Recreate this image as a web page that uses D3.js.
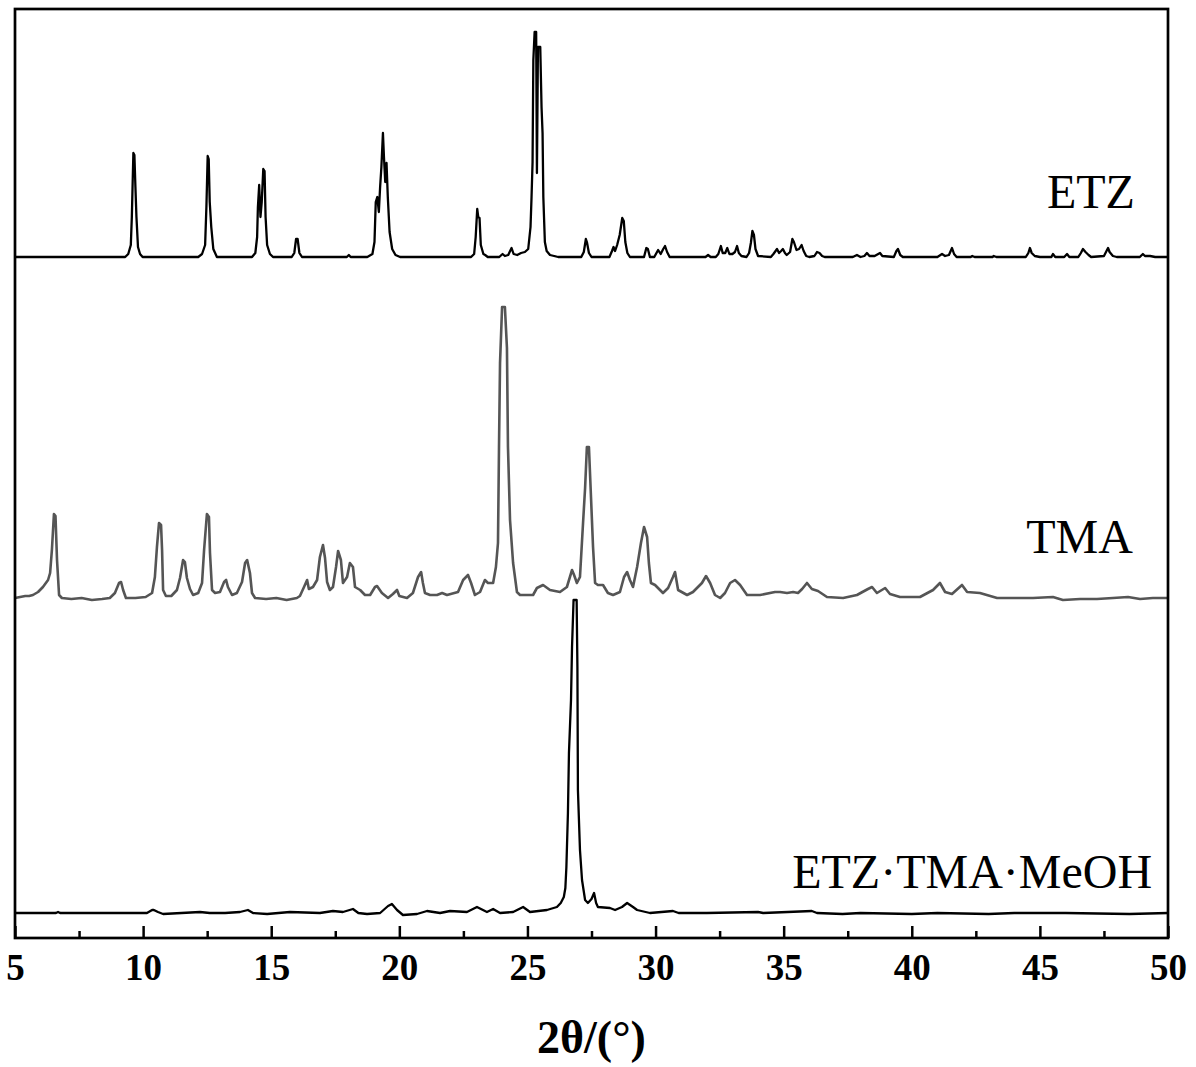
<!DOCTYPE html>
<meta charset="utf-8">
<style>
body { margin: 0; background: #fff; }
svg { display: block; font-family: "Times New Roman", "Liberation Serif", serif; }
.tick line { stroke: #000; stroke-width: 2.5; }
.tick text { font-family: "Times New Roman", "Liberation Serif", serif; font-size: 37px; font-weight: bold; fill: #000; }
.trace { fill: none; stroke-linejoin: round; }
</style>
<script src="https://d3js.org/d3.v7.min.js"></script>
<body>
<script>
// 2theta (deg) / intensity (a.u., above each pattern's own baseline)
const seriesNames = ['ETZ', 'TMA', 'ETZ\u00B7TMA\u00B7MeOH'];
const seriesOffsets = [681, 340, 25];
const seriesColors = ['#000000', '#555555', '#000000'];

const etzPattern = [
  [5.00,0],[6.70,0],[8.00,0],[9.30,0],[9.42,3],[9.52,12],[9.56,40],[9.62,104],[9.66,102],[9.70,70],[9.74,40],[9.80,10],[9.88,3],[9.98,0],
  [11.0,0],[12.15,0],[12.30,3],[12.42,12],[12.47,50],[12.52,101],[12.56,98],[12.60,55],[12.66,30],[12.74,8],[12.88,0],
  [14.25,0],[14.38,4],[14.45,20],[14.48,50],[14.53,72],[14.58,40],[14.63,55],[14.69,88],[14.74,86],[14.78,40],[14.84,12],[14.95,3],[15.07,0],
  [15.80,0],[15.90,4],[15.97,18],[16.03,18],[16.10,4],[16.20,0],
  [17.95,0],[18.03,2],[18.10,0],
  [18.75,0],[18.95,3],[19.03,15],[19.08,55],[19.14,60],[19.20,45],[19.25,70],[19.30,90],[19.36,124],[19.40,100],[19.45,75],[19.50,94],[19.55,60],[19.62,25],[19.72,8],[19.85,2],[20.03,0],
  [22.80,0],[22.92,3],[22.98,20],[23.04,48],[23.08,40],[23.13,39],[23.18,12],[23.28,3],[23.35,2],[23.45,0],
  [23.90,0],[24.03,3],[24.12,1],[24.25,2],[24.38,9],[24.46,3],[24.60,2],[24.75,4],[24.90,5],[25.03,8],[25.12,30],[25.16,60],[25.20,95],[25.23,197],[25.28,225],[25.34,225],[25.37,84],[25.41,210],[25.50,210],[25.55,150],[25.59,124],[25.62,60],[25.68,15],[25.75,6],[25.88,2],[26.20,0],
  [27.10,0],[27.20,5],[27.28,18],[27.32,15],[27.40,4],[27.50,0],
  [28.20,0],[28.30,6],[28.36,10],[28.42,6],[28.50,12],[28.60,22],[28.70,39],[28.76,36],[28.82,15],[28.90,4],[29.00,0],
  [29.55,0],[29.64,9],[29.70,8],[29.78,0],
  [29.95,0],[30.10,7],[30.20,3],[30.30,8],[30.37,11],[30.45,5],[30.55,0],
  [31.95,0],[32.05,2],[32.15,0],
  [32.35,0],[32.45,3],[32.55,11],[32.62,4],[32.72,4],[32.80,9],[32.88,3],[33.00,3],[33.10,5],[33.18,11],[33.25,4],[33.35,1],
  [33.55,0],[33.65,4],[33.72,14],[33.78,26],[33.84,22],[33.90,8],[34.00,1],
  [34.50,0],[34.60,3],[34.74,8],[34.82,4],[34.90,6],[34.97,8],[35.05,4],[35.12,2],[35.25,5],[35.34,18],[35.40,15],[35.50,7],[35.60,8],[35.70,12],[35.78,6],[35.88,1],[36.00,0],
  [36.20,1],[36.30,5],[36.40,4],[36.50,1],[36.60,0],
  [37.70,0],[37.86,2],[38.00,0],[38.15,1],[38.25,4],[38.35,1],[38.55,1],[38.76,4],[38.85,1],[39.30,0],[39.40,6],[39.46,8],[39.55,2],[39.65,0],
  [41.00,0],[41.18,3],[41.30,1],[41.45,2],[41.57,9],[41.65,3],[41.75,0],
  [42.30,0],[42.36,1],[42.45,0],[43.15,0],[43.20,1],[43.30,0],
  [44.45,0],[44.55,4],[44.61,9],[44.68,4],[44.80,1],[45.00,0],[45.45,0],[45.51,3],[45.60,0],[45.95,0],[46.06,3],[46.15,0],
  [46.50,0],[46.60,4],[46.68,8],[46.78,5],[46.90,2],[47.00,0],[47.50,1],[47.60,6],[47.66,9],[47.72,5],[47.85,1],[48.00,0],
  [48.90,0],[49.02,3],[49.10,1],[49.30,1],[49.50,0],[50.00,0]
];

const tmaPattern = [
  [5.00,0],[5.20,1],[5.40,2],[5.55,2],[5.70,3],[5.90,6],[6.09,11],[6.29,18],[6.37,25],[6.44,48],[6.52,84],[6.58,82],[6.64,38],[6.72,3],[6.83,0],
  [7.20,-1],[7.60,0],[8.00,-2],[8.40,-1],[8.70,0],[8.90,5],[9.06,15],[9.14,16],[9.22,8],[9.33,0],[9.70,0],[10.10,1],
  [10.35,5],[10.46,21],[10.54,51],[10.62,75],[10.70,73],[10.74,48],[10.78,8],[10.89,2],[11.10,2],
  [11.32,8],[11.44,20],[11.56,38],[11.63,36],[11.71,20],[11.83,9],[11.95,3],[12.15,5],
  [12.30,15],[12.38,48],[12.49,84],[12.57,81],[12.61,45],[12.69,8],[12.81,5],[13.00,6],
  [13.16,16],[13.24,18],[13.31,11],[13.47,3],[13.66,5],[13.86,16],[13.98,35],[14.06,38],[14.17,25],[14.25,5],[14.37,0],
  [14.80,-1],[15.20,0],[15.60,-2],[16.00,0],[16.12,2],[16.28,11],[16.40,18],[16.47,9],[16.63,11],[16.79,18],[16.90,41],[17.02,53],[17.10,40],[17.18,16],
  [17.29,8],[17.41,11],[17.53,31],[17.61,47],[17.72,38],[17.80,15],[17.96,21],[18.07,35],[18.19,31],[18.27,11],[18.47,8],[18.66,3],[18.86,3],
  [19.05,11],[19.13,12],[19.32,5],[19.56,0],[19.75,4],[19.91,8],[20.00,2],[20.30,0],[20.53,5],[20.73,21],[20.85,26],[20.92,15],[21.00,5],
  [21.20,3],[21.47,3],[21.67,5],[21.86,3],[22.29,6],[22.49,18],[22.68,23],[22.80,15],[22.95,3],[23.15,6],[23.34,18],[23.46,15],[23.66,15],
  [23.77,31],[23.85,55],[23.89,151],[23.93,235],[24.01,291],[24.12,291],[24.20,250],[24.24,151],[24.32,78],[24.44,35],[24.59,6],[24.71,3],
  [25.22,3],[25.37,10],[25.61,13],[25.88,8],[26.27,6],[26.54,11],[26.74,28],[26.82,23],[26.93,15],[27.05,21],
  [27.17,75],[27.25,110],[27.32,151],[27.40,151],[27.48,101],[27.56,51],[27.64,15],[27.75,13],[27.95,13],[28.14,5],[28.34,3],
  [28.61,6],[28.77,21],[28.89,26],[29.00,18],[29.12,11],[29.28,31],[29.43,55],[29.55,71],[29.67,61],[29.74,35],[29.82,15],[29.98,13],
  [30.29,5],[30.49,10],[30.68,21],[30.76,26],[30.88,8],[31.23,3],[31.46,6],[31.81,15],[31.97,22],[32.13,15],[32.32,3],[32.52,0],
  [32.71,5],[32.91,15],[33.10,18],[33.30,13],[33.57,3],[34.08,3],[34.66,6],[34.86,6],[35.13,5],[35.37,6],[35.56,5],[35.72,9],
  [35.91,15],[36.10,9],[36.34,7],[36.69,1],[37.32,0],[37.86,3],[38.29,9],[38.45,11],[38.64,5],[38.96,10],[39.15,4],[39.54,1],
  [40.32,1],[40.83,8],[41.10,15],[41.30,6],[41.57,4],[41.96,13],[42.16,6],[42.66,5],[43.33,0],[43.95,0],[44.73,0],[45.51,1],
  [45.90,-2],[46.57,-1],[47.23,-1],[47.85,0],[48.44,1],[48.91,-1],[49.41,0],[50.00,0]
];

const cocrystalPattern = [
  [5.00,0],[6.60,0],[6.68,1],[6.76,0],[8.00,0],[10.15,0],[10.35,3],[10.42,3],[10.58,1],[10.78,-1],[11.50,0],[12.22,1],[12.60,0],
  [13.20,0],[13.78,1],[14.09,3],[14.29,0],[14.84,-1],[15.73,1],[16.90,0],[17.41,2],[17.80,1],[18.19,4],[18.40,0],[18.74,-1],
  [19.25,0],[19.56,7],[19.71,9],[19.91,3],[20.14,-2],[20.69,-1],[21.08,2],[21.59,0],[21.98,2],[22.64,1],[23.03,6],[23.42,1],
  [23.66,4],[23.93,0],[24.44,1],[24.83,6],[25.10,1],[25.76,3],[26.15,6],[26.30,10],[26.42,16],[26.48,25],[26.52,46],[26.58,100],
  [26.62,160],[26.70,213],[26.74,266],[26.80,313],[26.92,313],[26.95,246],[26.97,123],[27.05,63],[27.13,33],[27.25,13],[27.36,10],
  [27.50,14],[27.60,20],[27.68,10],[27.75,6],[28.22,5],[28.42,3],[28.69,6],[28.89,10],[29.12,6],[29.28,3],[29.78,0],[30.68,2],
  [30.90,0],[32.00,0],[34.00,1],[34.20,0],[36.10,2],[36.30,0],[37.30,-1],[38.00,0],[40.00,-1],[41.00,0],[43.00,-1],[44.00,0],
  [46.00,0],[48.50,-1],[50.00,0]
];

const patterns = [etzPattern, tmaPattern, cocrystalPattern];
const xTicks = [5, 10, 15, 20, 25, 30, 35, 40, 45, 50];
const xMinorTicks = [7.5, 12.5, 17.5, 22.5, 27.5, 32.5, 37.5, 42.5, 47.5];
const xLabel = '2\u03B8/(\u00B0)';

const W = 1196, H = 1067;
const plot = { left: 15, right: 1168, top: 9, bottom: 938 };

const svg = d3.select('body')
  .append('svg')
    .attr('width', W)
    .attr('height', H);

const x = d3.scaleLinear()
  .domain([5, 50])
  .range([plot.left, plot.right]);

const y = d3.scaleLinear()
  .domain([0, 929])
  .range([plot.bottom, plot.top]);

// traces
const line = d3.line();
patterns.forEach((pts, i) => {
  line.x(d => x(d[0])).y(d => y(seriesOffsets[i] + d[1]));
  svg.append('path')
    .attr('class', 'trace')
    .attr('d', line(pts))
    .attr('stroke', seriesColors[i])
    .attr('stroke-width', i == 1 ? 2.6 : 2.3);
});

// series labels (right aligned near each pattern)
const labelPos = [[48.71, 49], [48.63, 45], [49.38, 25]];
svg.selectAll('.slabel')
  .data(seriesNames)
  .enter()
  .append('text')
    .attr('class', 'slabel')
    .attr('x', (d, i) => x(labelPos[i][0]))
    .attr('y', (d, i) => y(seriesOffsets[i] + labelPos[i][1]))
    .attr('text-anchor', 'end')
    .style('font-size', '48px')
    .text(d => d);

// bottom axis, ticks inward
const axisG = svg.append('g')
  .attr('transform', `translate(0, ${plot.bottom})`)
  .call(d3.axisBottom(x).tickValues(xTicks).tickSize(-12).tickPadding(16))
  .attr('font-family', null)
  .attr('font-size', null);
axisG.select('.domain').remove();

const minorG = svg.append('g')
  .attr('transform', `translate(0, ${plot.bottom})`)
  .call(d3.axisBottom(x).tickValues(xMinorTicks).tickSize(-7).tickFormat(''));
minorG.select('.domain').remove();

// frame
svg.append('rect')
  .attr('x', plot.left)
  .attr('y', plot.top)
  .attr('width', plot.right - plot.left)
  .attr('height', plot.bottom - plot.top)
  .attr('fill', 'none')
  .attr('stroke', '#000')
  .attr('stroke-width', 2.7);

svg.append('text')
  .attr('x', (plot.left + plot.right) / 2)
  .attr('y', 1053)
  .attr('text-anchor', 'middle')
  .style('font-size', '46px')
  .style('font-weight', 'bold')
  .text(xLabel);
</script>
</body>
</html>
